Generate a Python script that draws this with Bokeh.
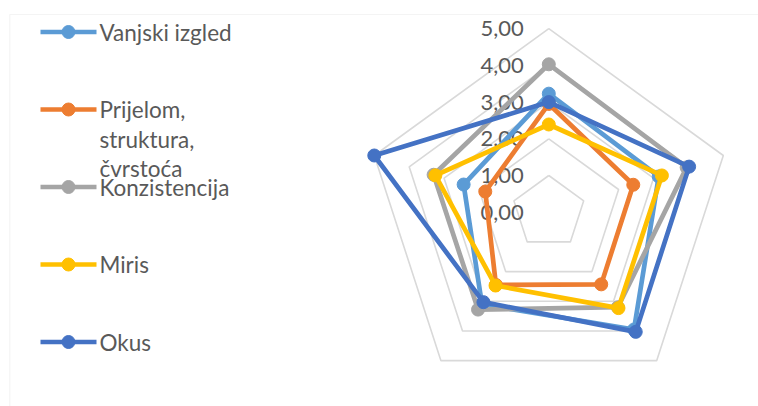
import numpy as np
from bokeh.plotting import figure
from bokeh.models import Range1d, BoxAnnotation
from bokeh.core.properties import value
from bokeh.embed import file_html
from bokeh.resources import INLINE

# ---------------- data ----------------
series_names = ["Vanjski izgled", "Prijelom,\nstruktura,\nčvrstoća", "Konzistencija", "Miris", "Okus"]
vanjski_izgled = [3.23, 3.15, 3.95, 3.10, 2.44]
prijelom = [2.95, 2.42, 2.43, 2.45, 1.82]
konzistencija = [4.03, 3.95, 3.20, 3.28, 3.30]
miris = [2.39, 3.24, 3.23, 2.47, 3.25]
okus = [3.00, 4.02, 4.03, 3.03, 5.00]
tick_values = [0, 1, 2, 3, 4, 5]
tick_labels = ["0,00", "1,00", "2,00", "3,00", "4,00", "5,00"]
colors = ["#5B9BD5", "#ED7D31", "#A5A5A5", "#FFC000", "#4472C4"]

all_series = [vanjski_izgled, prijelom, konzistencija, miris, okus]

# ---------------- layout ----------------
W, H = 758, 406
PPU = 36.7                 # pixels per value unit
CX, CY = 548.3, 211.7      # radar centre on the canvas (px)
FONT = "Lato"
TXT = "#595959"
GRID = "#D9D9D9"

xs0 = -CX / PPU
xs1 = xs0 + W / PPU
ye1 = CY / PPU
ye0 = ye1 - H / PPU


def px(x):
    return xs0 + x / PPU


def py(y):
    return ye1 - y / PPU


p = figure(width=W, height=H, output_backend="svg", toolbar_location=None,
           x_range=Range1d(xs0, xs1), y_range=Range1d(ye0, ye1),
           min_border=0, min_border_left=0, min_border_right=0,
           min_border_top=0, min_border_bottom=0)
p.axis.visible = False
p.grid.visible = False
p.outline_line_color = None
p.background_fill_color = "white"
p.border_fill_color = "white"

# chart-area border (cut off at right and bottom)
p.add_layout(BoxAnnotation(left=px(9.3), top=py(14.0), right=xs1 + 5, bottom=ye0 - 5,
                           fill_alpha=0, line_color=GRID, line_width=1.2))

n = 5
theta = np.arange(n) * 2 * np.pi / n
sx = np.sin(theta)
sy = np.cos(theta)

# grid pentagons
for lv in tick_values[1:]:
    gx = list(lv * sx) + [lv * sx[0]]
    gy = list(lv * sy) + [lv * sy[0]]
    p.line(gx, gy, line_color=GRID, line_width=1.6)

# tick labels
p.text(x=[-0.68] * len(tick_values), y=[float(v) for v in tick_values], text=tick_labels,
       text_font=value(FONT), text_font_size="22px", text_color=TXT,
       text_align="right", text_baseline="middle")

# series
for vals, c in zip(all_series, colors):
    v = np.array(vals)
    x = list(v * sx) + [v[0] * sx[0]]
    y = list(v * sy) + [v[0] * sy[0]]
    p.line(x, y, line_color=c, line_width=4.7, line_join="round")
    p.scatter(list(v * sx), list(v * sy), size=13, fill_color=c, line_color=c)

# legend (manual, Excel style)
LEG_X0, LEG_X1, LEG_TXT = 40, 96, 99
LEG_Y0, LEG_PITCH, LINE_PITCH = 31.5, 77.5, 29.5
for i, (name, c) in enumerate(zip(series_names, colors)):
    yy = LEG_Y0 + i * LEG_PITCH
    p.line([px(LEG_X0), px(LEG_X1)], [py(yy), py(yy)], line_color=c, line_width=4.7)
    p.scatter([px((LEG_X0 + LEG_X1) / 2)], [py(yy)], size=13, fill_color=c, line_color=c)
    for k, part in enumerate(name.split("\n")):
        p.text(x=[px(LEG_TXT)], y=[py(yy + k * LINE_PITCH)], text=[part],
               text_font=value(FONT), text_font_size="22.5px", text_color=TXT,
               text_align="left", text_baseline="middle")

open("out.html", "w").write(file_html(p, INLINE))
